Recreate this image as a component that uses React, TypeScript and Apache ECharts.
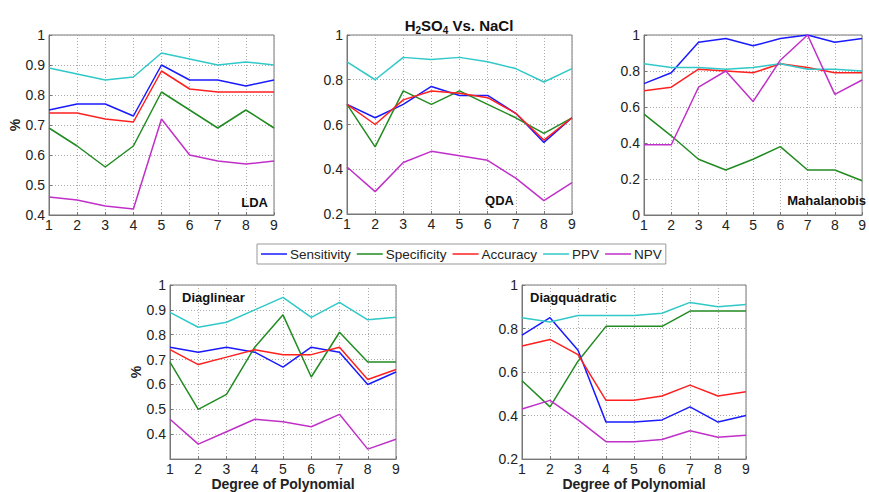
import React, { useEffect, useRef } from "react";
import * as echarts from "echarts";

const degrees = [1, 2, 3, 4, 5, 6, 7, 8, 9];
const metrics = ["Sensitivity", "Specificity", "Accuracy", "PPV", "NPV"];
const colors = ["#1a1aff", "#228b22", "#ff2020", "#30c8c8", "#c030c8"];

// LDA
const ldaSens = [0.75, 0.77, 0.77, 0.73, 0.9, 0.85, 0.85, 0.83, 0.85];
const ldaSpec = [0.69, 0.63, 0.56, 0.63, 0.81, 0.75, 0.69, 0.75, 0.69];
const ldaAcc = [0.74, 0.74, 0.72, 0.71, 0.88, 0.82, 0.81, 0.81, 0.81];
const ldaPpv = [0.89, 0.87, 0.85, 0.86, 0.94, 0.92, 0.9, 0.91, 0.9];
const ldaNpv = [0.46, 0.45, 0.43, 0.42, 0.72, 0.6, 0.58, 0.57, 0.58];
// QDA
const qdaSens = [0.69, 0.63, 0.69, 0.77, 0.73, 0.73, 0.65, 0.52, 0.63];
const qdaSpec = [0.69, 0.5, 0.75, 0.69, 0.75, 0.69, 0.63, 0.56, 0.63];
const qdaAcc = [0.69, 0.6, 0.71, 0.75, 0.74, 0.72, 0.65, 0.53, 0.63];
const qdaPpv = [0.88, 0.8, 0.9, 0.89, 0.9, 0.88, 0.85, 0.79, 0.85];
const qdaNpv = [0.41, 0.3, 0.43, 0.48, 0.46, 0.44, 0.36, 0.26, 0.34];
// Mahalanobis
const mahSens = [0.73, 0.79, 0.96, 0.98, 0.94, 0.98, 1.0, 0.96, 0.98];
const mahSpec = [0.56, 0.44, 0.31, 0.25, 0.31, 0.38, 0.25, 0.25, 0.19];
const mahAcc = [0.69, 0.71, 0.81, 0.8, 0.79, 0.84, 0.82, 0.79, 0.79];
const mahPpv = [0.84, 0.82, 0.82, 0.81, 0.82, 0.84, 0.81, 0.81, 0.8];
const mahNpv = [0.39, 0.39, 0.71, 0.8, 0.63, 0.86, 1.0, 0.67, 0.75];
// Diaglinear
const dlSens = [0.75, 0.73, 0.75, 0.73, 0.67, 0.75, 0.73, 0.6, 0.65];
const dlSpec = [0.69, 0.5, 0.56, 0.75, 0.88, 0.63, 0.81, 0.69, 0.69];
const dlAcc = [0.74, 0.68, 0.71, 0.74, 0.72, 0.72, 0.75, 0.62, 0.66];
const dlPpv = [0.89, 0.83, 0.85, 0.9, 0.95, 0.87, 0.93, 0.86, 0.87];
const dlNpv = [0.46, 0.36, 0.41, 0.46, 0.45, 0.43, 0.48, 0.34, 0.38];
// Diagquadratic
const dqSens = [0.77, 0.85, 0.7, 0.37, 0.37, 0.38, 0.44, 0.37, 0.4];
const dqSpec = [0.56, 0.44, 0.65, 0.81, 0.81, 0.81, 0.88, 0.88, 0.88];
const dqAcc = [0.72, 0.75, 0.68, 0.47, 0.47, 0.49, 0.54, 0.49, 0.51];
const dqPpv = [0.85, 0.83, 0.86, 0.86, 0.86, 0.87, 0.92, 0.9, 0.91];
const dqNpv = [0.43, 0.47, 0.38, 0.28, 0.28, 0.29, 0.33, 0.3, 0.31];

const panelNames = ["LDA", "QDA", "Mahalanobis", "Diaglinear", "Diagquadratic"];
const panelData = [
  [ldaSens, ldaSpec, ldaAcc, ldaPpv, ldaNpv],
  [qdaSens, qdaSpec, qdaAcc, qdaPpv, qdaNpv],
  [mahSens, mahSpec, mahAcc, mahPpv, mahNpv],
  [dlSens, dlSpec, dlAcc, dlPpv, dlNpv],
  [dqSens, dqSpec, dqAcc, dqPpv, dqNpv],
];
const yMin = [0.4, 0.2, 0, 0.3, 0.2];
const yMax = [1, 1, 1, 1, 1];
const yStep = [0.1, 0.2, 0.2, 0.1, 0.2];

const FONT = "Liberation Sans, Arial, sans-serif";

export default function App() {
  const ref = useRef<HTMLDivElement>(null);
  useEffect(() => {
    document.body.style.margin = "0";
    const chart = echarts.init(ref.current!, null, { renderer: "svg" });
    const grids = [
      { left: 49, top: 35, width: 225, height: 180 },
      { left: 347, top: 35, width: 225, height: 179 },
      { left: 644, top: 35, width: 225, height: 180 },
      { left: 170, top: 285, width: 226, height: 178 },
      { left: 522, top: 285, width: 224, height: 178 },
    ].map((g) => ({ ...g, show: true, borderColor: "#777", borderWidth: 1, containLabel: false }));

    const xAxis = grids.map((_, i) => ({
      type: "value",
      gridIndex: i,
      min: 1,
      max: 9,
      interval: 1,
      name: i >= 3 ? "Degree of Polynomial" : "",
      nameLocation: "middle",
      nameGap: 16,
      nameTextStyle: { fontFamily: FONT, fontSize: 14, fontWeight: "bold", color: "#222", verticalAlign: "top" },
      axisLine: { show: true, lineStyle: { color: "#777" } },
      axisTick: { show: true, inside: true, length: 3, lineStyle: { color: "#777" } },
      axisLabel: { fontFamily: FONT, fontSize: 14, color: "#222", margin: 3 },
      splitLine: { show: true, lineStyle: { type: [1, 2], color: "#aaa" } },
    }));

    const yAxis = grids.map((_, i) => ({
      type: "value",
      gridIndex: i,
      min: yMin[i],
      max: yMax[i],
      interval: yStep[i],
      name: i === 0 || i === 3 ? "%" : "",
      nameLocation: "middle",
      nameGap: 27,
      nameRotate: 90,
      nameTextStyle: { fontFamily: FONT, fontSize: 14, fontWeight: "bold", color: "#222" },
      axisLine: { show: true, lineStyle: { color: "#777" } },
      axisTick: { show: true, inside: true, length: 3, lineStyle: { color: "#777" } },
      axisLabel: {
        fontFamily: FONT,
        fontSize: 14,
        color: "#222",
        margin: 4,
        formatter: (v: number) => (i === 3 && Math.abs(v - 0.3) < 1e-6 ? "" : String(Math.round(v * 10) / 10)),
      },
      splitLine: { show: true, lineStyle: { type: [1, 2], color: "#aaa" } },
    }));

    const series: any[] = [];
    panelData.forEach((arrs, p) => {
      arrs.forEach((vals, m) => {
        series.push({
          type: "line",
          name: metrics[m],
          xAxisIndex: p,
          yAxisIndex: p,
          data: degrees.map((d, k) => [d, vals[k]]),
          showSymbol: false,
          symbol: "none",
          color: colors[m],
          lineStyle: { width: 1.5, color: colors[m] },
          z: 3,
        });
      });
    });

    const labelPos = [
      { x: 268, y: 202, align: "right" },
      { x: 514, y: 200, align: "right" },
      { x: 866, y: 200, align: "right" },
      { x: 182, y: 297, align: "left" },
      { x: 530, y: 297, align: "left" },
    ];

    const graphic: any[] = panelNames.map((n, i) => ({
      type: "text",
      x: labelPos[i].x,
      y: labelPos[i].y,
      z: 10,
      style: {
        text: n,
        fontFamily: FONT,
        fontSize: 13,
        fontWeight: "bold",
        fill: "#111",
        align: labelPos[i].align,
        verticalAlign: "middle",
      },
    }));
    graphic.push({
      type: "text",
      x: 459,
      y: 25,
      z: 10,
      style: {
        text: "{b|H}{s|2}{b|SO}{s|4}{b| Vs. NaCl}",
        align: "center",
        verticalAlign: "middle",
        rich: {
          b: { fontFamily: FONT, fontSize: 15, fontWeight: "bold", fill: "#111", lineHeight: 20, verticalAlign: "middle" },
          s: { fontFamily: FONT, fontSize: 10, fontWeight: "bold", fill: "#111", lineHeight: 10, verticalAlign: "bottom" },
        },
      },
    });

    chart.setOption({
      animation: false,
      backgroundColor: "#fff",
      grid: grids,
      xAxis,
      yAxis,
      series,
      graphic,
      legend: {
        left: 257,
        top: 244,
        data: metrics,
        icon: "rect",
        itemWidth: 26,
        itemHeight: 1.5,
        itemGap: 6,
        padding: [3, 4],
        borderColor: "#999",
        borderWidth: 1,
        backgroundColor: "#fff",
        textStyle: { fontFamily: FONT, fontSize: 13.5, color: "#222", padding: [0, 0, 0, -2] },
      },
    });
    return () => chart.dispose();
  }, []);
  return <div ref={ref} style={{ width: 869, height: 492, position: "absolute", left: 0, top: 0 }} />;
}
